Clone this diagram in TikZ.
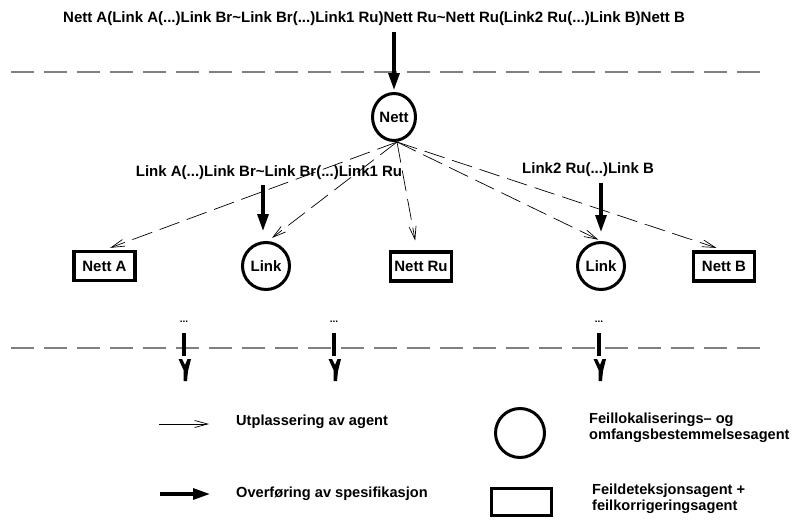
\documentclass[tikz,border=0pt]{standalone}
\usepackage{fontspec}
\setmainfont{Liberation Sans}
\usetikzlibrary{arrows.meta,shapes.geometric}
\begin{document}
\begin{tikzpicture}[x=1pt,y=-1pt,
  every node/.style={font=\bfseries\fontsize{15}{16}\selectfont, inner sep=0pt},
  agent/.style={circle, draw, line width=3pt, minimum size=47pt},
  detect/.style={rectangle, draw, line width=3.2pt, minimum width=61pt, minimum height=29pt},
  dots/.style={font=\bfseries\fontsize{10}{11}\selectfont},
  legtext/.style={anchor=west, align=left, font=\bfseries\fontsize{14.6}{16}\selectfont},
  spec/.style={line width=3.2pt, -{Triangle[length=17pt,width=11pt]}},
  deploy/.style={line width=0.7pt, dash pattern=on 21pt off 8pt, -{Straight Barb[length=13pt,width=7pt]}},
  level/.style={draw=gray, line width=1.6pt, dash pattern=on 23pt off 10pt},
  ybar/.style={line width=3.2pt}
]
\useasboundingbox (0,0) rectangle (794,519);

% level separators
\draw[level] (11,72) -- (764,72);
\draw[level] (11,348) -- (764,348);

% full specification
\node (spec) at (374,19) {Nett A(Link A(...)Link Br\textasciitilde Link Br(...)Link1 Ru)Nett Ru\textasciitilde Nett Ru(Link2 Ru(...)Link B)Nett B};

% agents
\node[ellipse, draw, line width=3pt, minimum width=43pt, minimum height=47pt] (nett) at (394,117) {Nett};
\node[detect] (na) at (104.5,266) {Nett A};
\node[agent] (l1) at (266,266) {Link};
\node[detect] (nru) at (421,266.5) {Nett Ru};
\node[agent] (l2) at (601,266) {Link};
\node[detect] (nb) at (724,266.5) {Nett B};

% partial specifications
\node (lab1) at (269,173) {Link A(...)Link Br\textasciitilde Link Br(...)Link1 Ru};
\node (lab2) at (588,170) {Link2 Ru(...)Link B};

% transfer of specification
\draw[spec, shorten <=6pt, shorten >=2pt] (spec.south -| nett) -- (nett.north);
\draw[spec, shorten <=5pt, shorten >=9pt] (lab1.south -| 263,0) -- (263,240);
\draw[spec, shorten <=6pt, shorten >=9pt] (lab2.south -| l2) -- (l2.north);

% deployment of agents
\coordinate (src) at (397,142);
\draw[deploy, shorten >=6pt] (src) -- (na.north);
\draw[deploy, shorten >=5pt] (src) -- ([xshift=2pt]l1.north);
\draw[deploy, shorten >=10pt] (src) -- (nru.north -| 417,0);
\draw[deploy, shorten >=3pt] (src) -- (l2.north);
\draw[deploy, shorten >=8pt] (src) -- (nb.north);

% continuation below the lower level
\foreach \n/\x in {d1/184, d2/334, d3/599}{
  \node[dots] (\n) at (\x,322) {...};
  \coordinate (\n e) at (\x,356);
  \draw[ybar] (\n e |- 0,333) -- (\n e);
  \fill ([shift={(-5.5,3)}]\n e) -- ([shift={(-2,3)}]\n e) -- ([shift={(1,9)}]\n e)
       -- ([shift={(3.5,3)}]\n e) -- ([shift={(7,3)}]\n e) -- ([shift={(4,15)}]\n e)
       -- ([shift={(3,25)}]\n e) -- ([shift={(-0.5,25)}]\n e) -- ([shift={(-0.5,14)}]\n e) -- cycle;
}

% legend
\coordinate (la) at (159,424);
\coordinate (lb) at (209,424);
\draw[line width=0.7pt, -{Straight Barb[length=13pt,width=7pt]}] (la) -- (lb);
\node[legtext] (t1) at (236,422) {Utplassering av agent};

\coordinate (lc) at (160,494);
\coordinate (ld) at (210,494);
\draw[spec] (lc) -- (ld);
\node[legtext] (t2) at (236,494) {Overføring av spesifikasjon};

\node[circle, draw, line width=3pt, minimum width=49pt, minimum height=49pt] (lcirc) at (520,433) {};
\node[legtext] (t3) at (589,428) {Feillokaliserings– og\\omfangsbestemmelsesagent};

\node[rectangle, draw, line width=3.4pt, minimum width=60pt, minimum height=27pt] (lrect) at (521.5,502) {};
\node[legtext] (t4) at (592,499) {Feildeteksjonsagent +\\feilkorrigeringsagent};
\end{tikzpicture}
\end{document}
